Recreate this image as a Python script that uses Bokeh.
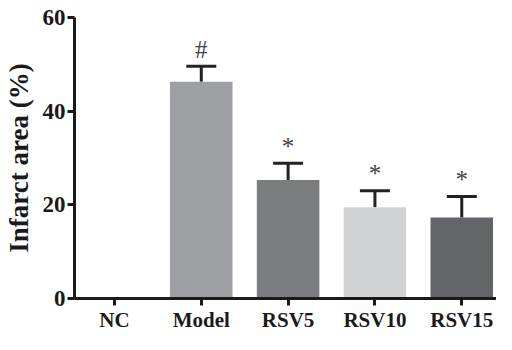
from bokeh.plotting import figure
from bokeh.models import ColumnDataSource, Range1d, FixedTicker, Whisker, TeeHead
from bokeh.core.properties import value
from bokeh.embed import file_html
from bokeh.resources import INLINE

categories = ["NC", "Model", "RSV5", "RSV10", "RSV15"]
means = [0.0, 46.3, 25.3, 19.5, 17.3]
errors = [0.0, 3.3, 3.6, 3.5, 4.5]
marks = ["", "#", "*", "*", "*"]
colors = ["#9e9fa3", "#9e9fa3", "#7b7c80", "#d2d3d5", "#636467"]
y_ticks = [0, 20, 40, 60]

xs = list(range(len(categories)))
src = ColumnDataSource(dict(x=xs, top=means, color=colors))

ex = [x for x, e in zip(xs, errors) if e > 0]
em = [m for m, e in zip(means, errors) if e > 0]
eu = [m + e for m, e in zip(means, errors) if e > 0]
esrc = ColumnDataSource(dict(x=ex, lower=em, upper=eu))

mx = [x for x, s in zip(xs, marks) if s]
my = [m + e for m, e, s in zip(means, errors, marks) if s]
mt = [s for s in marks if s]
msrc = ColumnDataSource(dict(x=mx, y=my, t=mt))

p = figure(width=496, height=334, output_backend="svg", toolbar_location=None,
           x_range=Range1d(-0.46, 4.40), y_range=Range1d(0, 60),
           min_border_left=66, min_border_right=0, min_border_top=17, min_border_bottom=0)
p.outline_line_color = None
p.xgrid.grid_line_color = None
p.ygrid.grid_line_color = None
p.background_fill_color = "white"

p.vbar(x="x", top="top", width=0.72, bottom=0, source=src, fill_color="color", line_color=None)

w = Whisker(base="x", lower="lower", upper="upper", source=esrc,
            upper_head=TeeHead(size=30, line_width=3, line_color="#222222"),
            lower_head=None, line_width=3, line_color="#222222")
p.add_layout(w)

p.text(x="x", y="y", text="t", source=msrc, text_align="center", text_baseline="middle",
       y_offset=-17, text_font=value("Liberation Serif"), text_font_size="25px",
       text_color="#444444")

font = "Liberation Serif"
for ax in (p.xaxis[0], p.yaxis[0]):
    ax.axis_line_width = 3
    ax.axis_line_color = "#1a1a1a"
    ax.major_tick_line_width = 3
    ax.major_tick_line_color = "#1a1a1a"
    ax.major_tick_out = 7
    ax.major_tick_in = 0
    ax.minor_tick_line_color = None
    ax.major_label_text_font = font
    ax.major_label_text_font_style = "bold"
    ax.major_label_text_color = "#1a1a1a"

p.xaxis.major_label_text_font_size = "21px"
p.xaxis.major_label_text_line_height = 0.8
p.yaxis.major_label_text_font_size = "23px"
p.xaxis.ticker = FixedTicker(ticks=xs)
p.xaxis.major_label_overrides = {i: c for i, c in zip(xs, categories)}
p.xaxis.major_label_standoff = 2
p.xaxis.axis_label = None
p.yaxis.ticker = FixedTicker(ticks=y_ticks)
p.yaxis.major_label_standoff = 2
p.yaxis.axis_label = "Infarct area (%)"
p.yaxis.axis_label_text_font = font
p.yaxis.axis_label_text_font_style = "bold"
p.yaxis.axis_label_text_font_size = "27px"
p.yaxis.axis_label_text_color = "#1a1a1a"
p.yaxis.axis_label_standoff = 6

open("out.html", "w").write(file_html(p, INLINE))
